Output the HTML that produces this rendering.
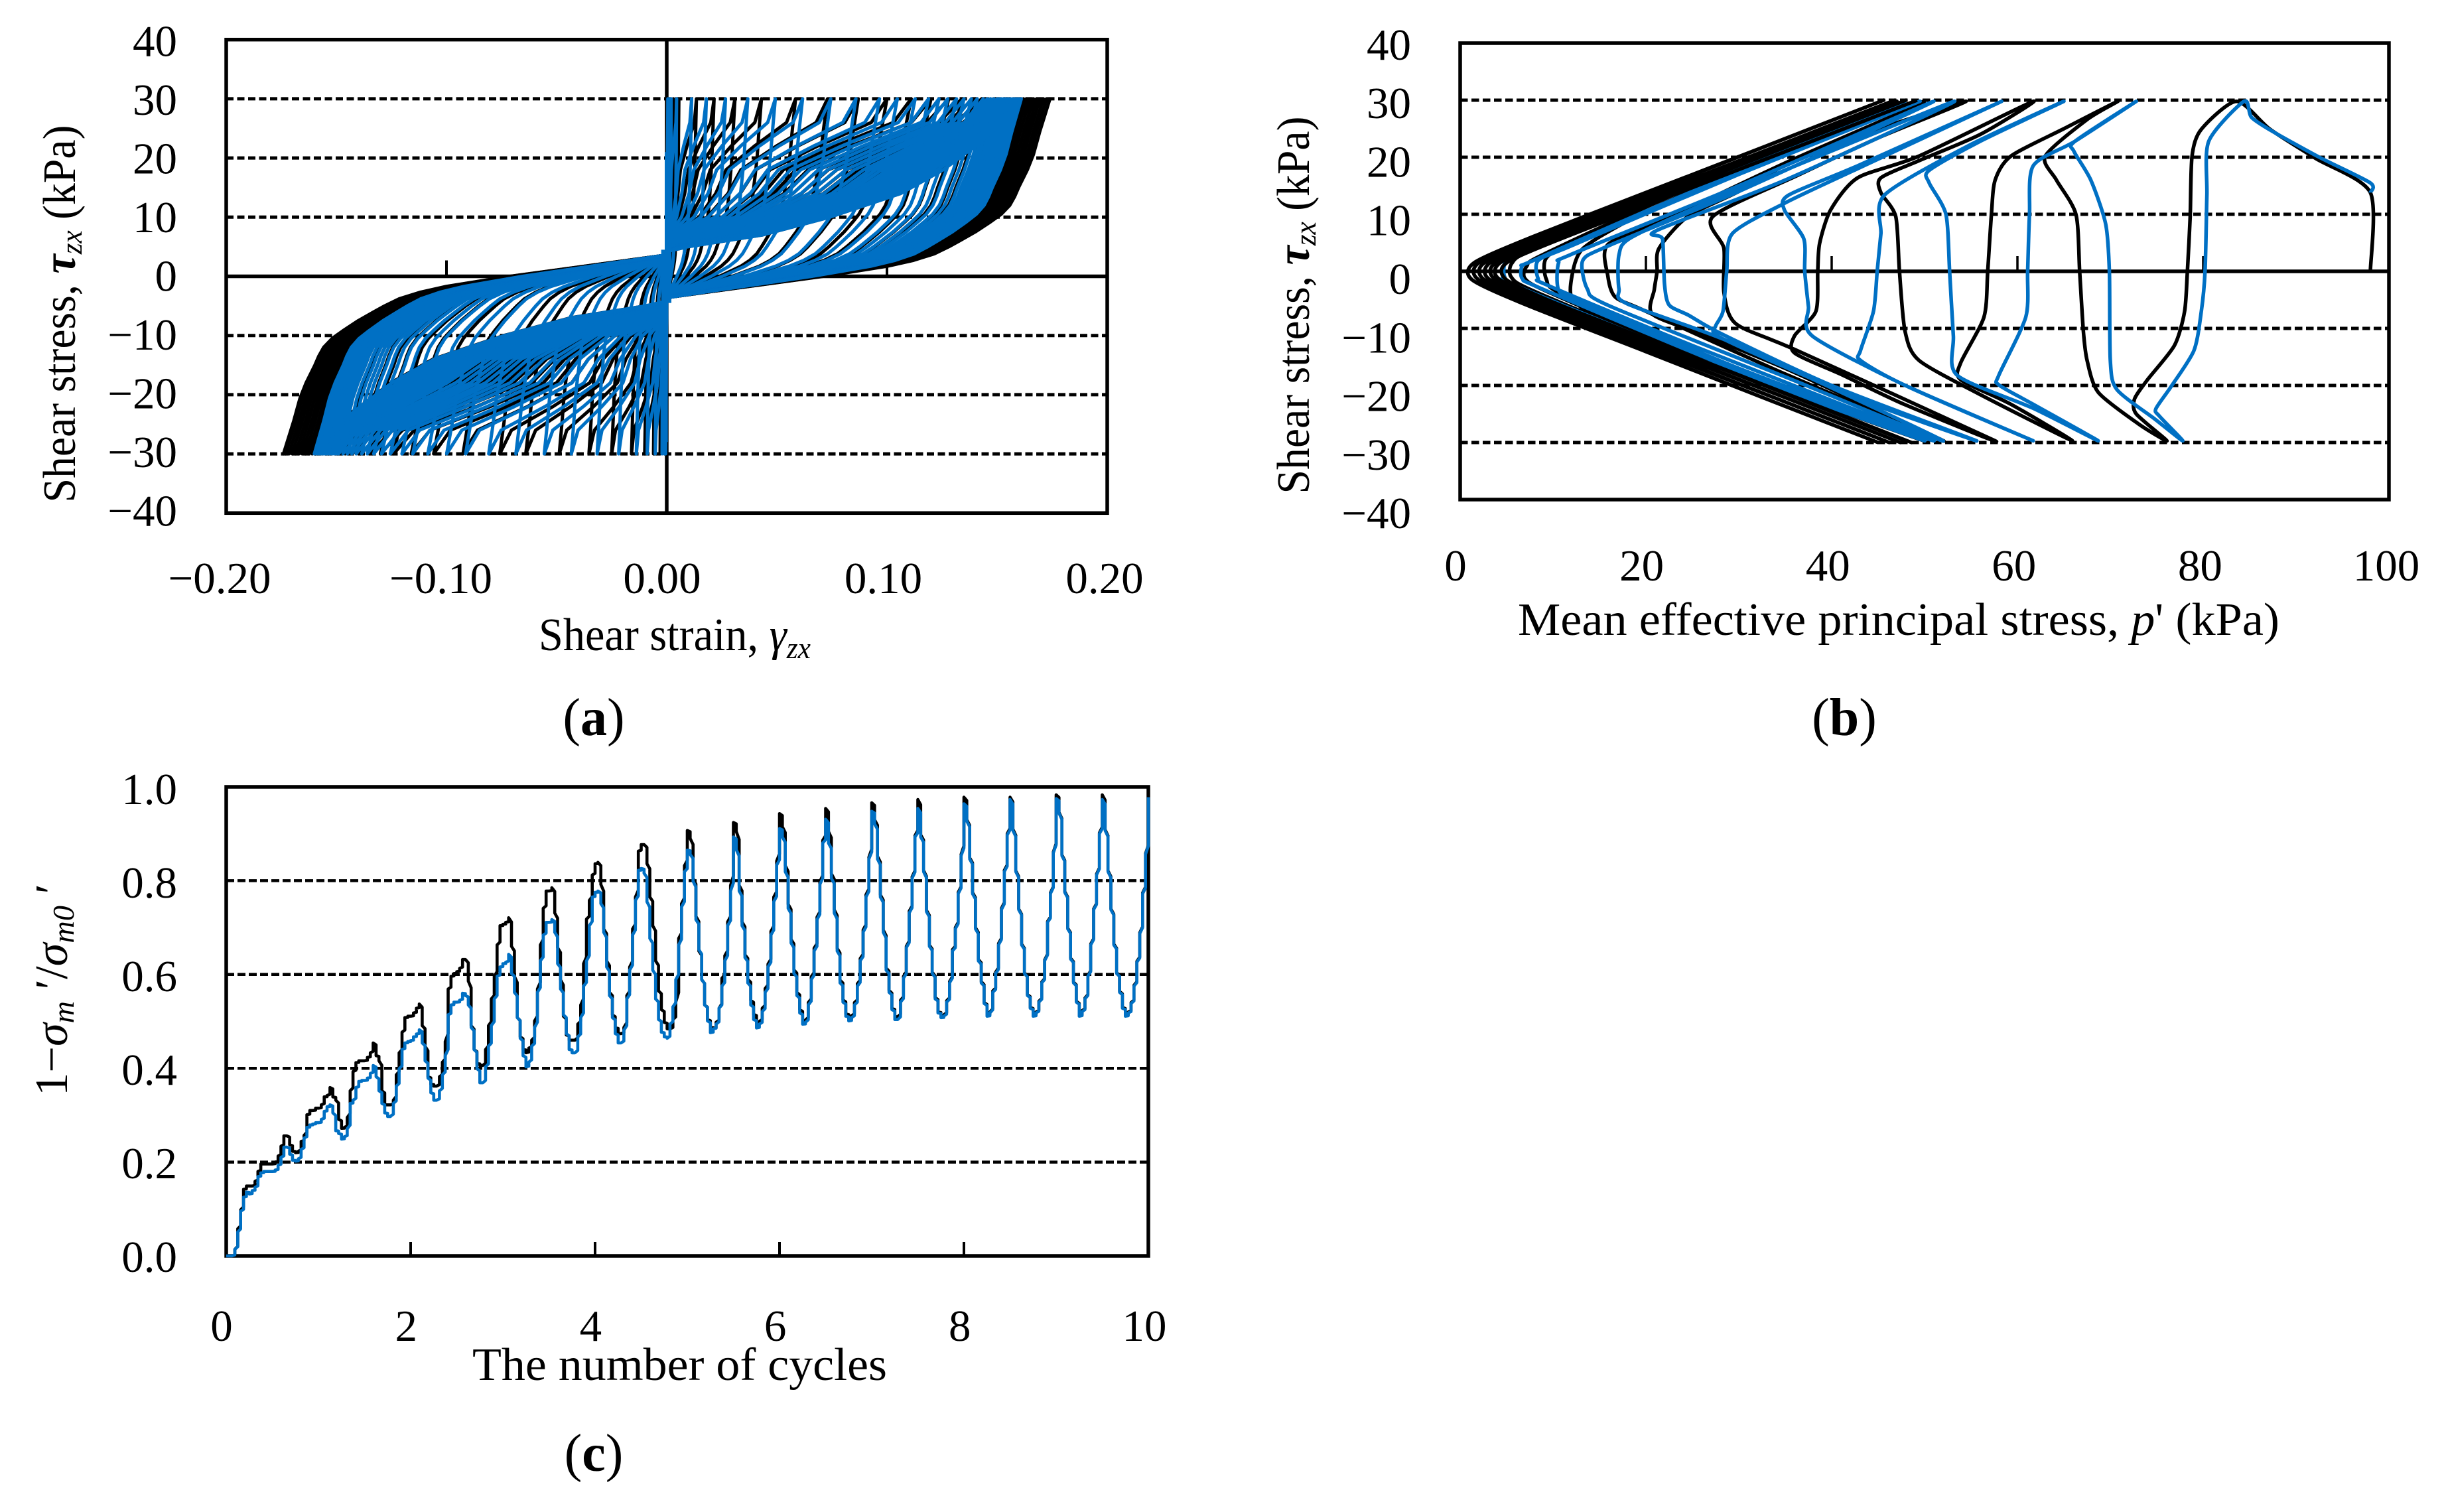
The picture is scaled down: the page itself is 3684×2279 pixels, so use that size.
<!DOCTYPE html>
<html lang="en">
<head>
<meta charset="utf-8">
<title>Cyclic shear test results</title>
<style>
html,body{margin:0;padding:0;background:#fff;}
svg{display:block;}
text{font-family:"Liberation Serif",serif;fill:#000;}
</style>
</head>
<body>
<svg id="fig" xmlns="http://www.w3.org/2000/svg" width="3684" height="2279" viewBox="0 0 3684 2279">
<rect width="3684" height="2279" fill="#fff"/>
<g id="plotA"></g>
<g id="plotB"></g>
<g id="plotC"></g>

<text transform="translate(113 473) rotate(-90)" text-anchor="middle" font-size="70" textLength="569" lengthAdjust="spacingAndGlyphs">Shear stress,  <tspan font-style="italic" font-weight="bold">τ</tspan><tspan font-style="italic" font-size="46" dy="10">zx</tspan><tspan dy="-10"> (kPa)</tspan></text>
<text x="812" y="980" font-size="70" textLength="410" lengthAdjust="spacingAndGlyphs">Shear strain,  <tspan font-style="italic">γ</tspan><tspan font-style="italic" font-size="46" dy="12">zx</tspan></text>
<text x="895" y="1108" font-size="80" text-anchor="middle">(<tspan font-weight="bold">a</tspan>)</text>

<text transform="translate(1973 460) rotate(-90)" text-anchor="middle" font-size="70" textLength="569" lengthAdjust="spacingAndGlyphs">Shear stress,  <tspan font-style="italic" font-weight="bold">τ</tspan><tspan font-style="italic" font-size="46" dy="10">zx</tspan><tspan dy="-10"> (kPa)</tspan></text>
<text x="2288" y="957" font-size="70" textLength="1148" lengthAdjust="spacingAndGlyphs">Mean effective principal stress, <tspan font-style="italic">p</tspan>' (kPa)</text>
<text x="2780" y="1108" font-size="80" text-anchor="middle">(<tspan font-weight="bold">b</tspan>)</text>

<text transform="translate(101 1492) rotate(-90)" text-anchor="middle" font-size="70" textLength="320" lengthAdjust="spacingAndGlyphs">1−<tspan font-style="italic">σ</tspan><tspan font-style="italic" font-size="46" dy="10">m</tspan><tspan dy="-10"> ′/</tspan><tspan font-style="italic">σ</tspan><tspan font-style="italic" font-size="46" dy="10">m0</tspan><tspan dy="-10"> ′</tspan></text>
<text x="712" y="2080" font-size="70" textLength="625" lengthAdjust="spacingAndGlyphs">The number of cycles</text>
<text x="895" y="2217" font-size="80" text-anchor="middle">(<tspan font-weight="bold">c</tspan>)</text>
</svg>

<script>
// ---------- Panel (a): shear stress vs shear strain ----------
var aYTicks = [40, 30, 20, 10, 0, -10, -20, -30, -40];
var aYGrid = [30, 20, 10, -10, -20, -30];
var aXTicks = [-0.2, -0.1, 0, 0.1, 0.2];
var aXTickLabels = ["−0.20", "−0.10", "0.00", "0.10", "0.20"];
var aMinorTicks = [-0.1, 0.1];
// strain reached at the stress limit in each half cycle, read where each line meets +/-30 kPa
var aPeaksBlackPos = [.001,.003,.0055,.0135,.0215,.031,.043,.0585,.073,.087,.1,.111,.12,.128,.134,.139,.143,.147,.15,.1515,.153,.1545,.156,.1575,.159,.1605,.162,.1635,.165,.1665,.168,.1695,.171,.1725,.174];
var aPeaksBluePos = [.0005,.001,.002,.0045,.0113,.018,.0267,.0368,.0493,.0617,.0745,.0859,.0966,.1047,.1128,.1189,.1236,.1276,.1316,.135,.1383,.141,.1437,.1455,.147,.1485,.15,.151,.152,.153,.154,.155,.156,.157,.158,.159,.16,.161];
var aPeaksBlackNeg = [.001,.003,.006,.01,.016,.025,.0353,.0488,.064,.0758,.0925,.1058,.116,.124,.13,.135,.139,.143,.146,.149,.1505,.152,.1535,.155,.1565,.158,.1595,.161,.1625,.164,.1655,.167,.1685,.17,.1715,.173,.174];
var aPeaksBlueNeg = [.0005,.001,.0021,.0052,.0089,.0138,.0218,.0316,.0433,.0556,.0685,.0808,.0913,.0999,.1085,.1153,.1202,.1255,.1295,.133,.136,.1385,.141,.143,.145,.147,.149,.15,.151,.152,.153,.154,.155,.156,.157,.158,.159,.16];
// branch shapes read from the envelope: stress level and fraction of the peak strain
var aLoadStress = [-3.6,-1.5,0,.8,1.7,2.7,3.8,5,6,7.5,9.2,10.5,12,13.5,15,18,20.6,24.4,30];
var aLoadFraction = [0,.238,.409,.487,.575,.644,.698,.736,.764,.805,.845,.873,.895,.908,.918,.941,.957,.973,1];
var aUnloadStress = [30,26,22,18,14,10,7,5,4.2];
var aUnloadFractionLargeBlue = [1,.95,.87,.78,.66,.46,.27,.06,0];
var aUnloadFractionLargeBlack = [1,.89,.8,.72,.61,.425,.25,.055,0];
var aUnloadFractionSmall = [1,.93,.68,.46,.38,.25,.05,0,0];
var aStemStrain = [.0006,-.001];
var aStemTop = [21,4.5];
var aStemBottom = [-4.5,-28];

// ---------- Panel (b): shear stress vs mean effective stress ----------
var bYTicks = [40, 30, 20, 10, 0, -10, -20, -30, -40];
var bYGrid = [30, 20, 10, -10, -20, -30];
var bXTicks = [0, 20, 40, 60, 80, 100];
var bMinorTicks = [20, 40, 60, 80];
var bBlackPath = [[98,0],[98,13.8],[92.1,19.8],[87.2,24.9],[83.6,29.8],
[79.8,24.9],[78.8,20.2],[78.6,9.6],[78.3,0],[78,-7],[76.9,-13],[74,-19],[72.6,-22.4],[72.8,-25],[76.1,-29.7],
[73,-26.7],[68.7,-21.2],[67.5,-15.6],[67.1,-10.5],[66.7,0],[66.3,10],[64.2,16],[63,20.2],[67.5,26.6],[70.8,29.8],
[65,25],[59.3,20.2],[57.6,16],[57.2,10],[56.8,0],[56.4,-8],[53.9,-16],[53.9,-19],[59.3,-23.3],[65.9,-29.7],
[56,-21.6],[49.4,-15.6],[47.9,-10.5],[47.3,0],[46.9,9.6],[45.3,13.8],[45.3,16.4],[49.4,19.4],[56,24],[61.7,29.8],
[49.4,20.2],[42.8,16.4],[39.9,10.8],[38.7,4.9],[38.5,0],[38.3,-7],[36,-11.3],[36,-14.3],[41.2,-18.2],[47.8,-23.3],[57.6,-29.7],
[36.3,-13.9],[29.7,-9.2],[28.4,-3.7],[28.4,4],[27.2,9.6],[36.3,16.8],[45.3,23.6],[54.4,29.8],
[38,21],[30,14],[24.5,9.6],[21.4,4],[21.2,0],[20.9,-3.2],[20.7,-7.5],[26,-11],[35,-17],[43,-23],[52,-29.7],
[35,-18],[20,-7],[16.7,-4.5],[15.9,-.8],[15.9,4.7],[22,9],[35,19],[50,29.8],
[35,21],[22,12],[16,7],[13.1,3.8],[12.2,.5],[12,-4.5],[15,-8],[30,-18],[50,-29.7],
[25,-14],[11,-4],[9.3,-1.5],[9.3,2.4],[13,6],[30,18.5],[47,29.8],
[25,15],[9,3],[7.2,1],[7,-1.3],[10,-4],[30,-18],[48,-29.7],
[25,-15],[8,-3.5],[5.5,-1],[5.6,1.5],[8,4],[25,16],[47,29.8]];
var bBluePath = [[98,13.8],[98,15.5],[92.5,20],[87.5,24.5],[85.2,27],[84.4,29.8],
[80.6,22.8],[80.4,13.4],[80.2,0],[79.8,-7],[79,-13.9],[76.5,-20.3],[74.9,-24.1],[75.3,-25.4],[77.8,-29.7],
[74.8,-25.9],[70.7,-20.7],[70,-15.6],[69.9,0],[69.5,8.3],[67.9,16],[66.1,21],[66.2,22.8],[72.8,29.8],
[66.2,22.8],[61.7,18.5],[61.3,10],[61.1,0],[60.9,-8],[58,-18.2],[58,-19.9],[61.7,-23.3],[68.7,-29.7],
[61.7,-24],[53.5,-18.2],[53.1,-11.3],[52.7,0],[52.3,10],[50.5,15.5],[50.5,17.7],[56,22.8],[65,29.8],
[54.7,22],[45.7,13.4],[45.3,6.6],[44.9,0],[44.5,-7],[43.1,-13.9],[43.1,-15.6],[47.8,-19.9],[61.7,-29.7],
[47.8,-19.9],[37.9,-11.3],[37.5,-6.2],[37.1,0],[37,5.7],[34.9,10.8],[35.4,13.4],[42.8,18.5],[58.3,29.8],
[42.8,18],[35,12],[29.3,6.6],[28.7,0],[28.3,-7],[27.5,-9.6],[27.7,-11.3],[34.6,-16.5],[44.5,-23.3],[55.6,-29.7],
[40,-20],[28.2,-11],[24.6,-7.7],[22.5,-5.9],[22,-2.2],[21.8,5.6],[21.2,7.2],[35,16],[53.2,29.8],
[28,13],[18.5,6],[17.1,2.9],[17.1,-3.1],[18,-5.7],[30,-13],[52,-29.7],
[35,-18.5],[16,-6],[13.7,-3.1],[13.2,1.9],[16,4.5],[30,14],[51,29.8],
[30,15],[12,3],[10.6,1.5],[10.7,-3.6],[14,-6],[30,-17],[51,-29.7],
[25,-13],[9.5,-2.5],[8.4,-1.3],[8.4,1.9],[12,4.5],[30,17],[49.5,29.8],
[25,14],[8,2],[6.7,1],[6.7,-1.3],[9,-3.2],[30,-17.5],[50,-29.7],
[25,-15],[6,-2.5],[4.8,-1],[4.8,1.2],[6,2.5],[20,12],[48,29.8]];
var bWedgePath = [[49.2,30],[36.6,22],[23.9,14],[11.3,6],[5,1.5],[5,-1.5],[10.9,-6],[23.5,-14],[36,-22],[48.6,-30],
[36,-22],[23.3,-14],[10.7,-6],[4.3,-1.5],[4.3,1.5],[10.3,6],[22.9,14],[35.4,22],[48,30],
[35.4,22],[22.7,14],[10.1,6],[3.8,1.5],[3.8,-1.5],[9.7,-6],[22.3,-14],[34.8,-22],[47.4,-30],
[34.8,-22],[22.1,-14],[9.5,-6],[3.2,-1.5],[3.2,1.5],[9.1,6],[21.7,14],[34.2,22],[46.8,30],
[34.2,22],[21.5,14],[8.9,6],[2.6,1.5],[2.6,-1.5],[8.5,-6],[21.1,-14],[33.6,-22],[46.2,-30],
[33.6,-22],[20.9,-14],[8.3,-6],[2,-1.5],[2,1.5],[7.9,6],[20.5,14],[33,22],[45.6,30],
[33,22],[20.3,14],[7.7,6],[1.5,1.5],[1.3,-1.5],[7.3,-6],[19.9,-14],[32.4,-22],[45,-30]];

// ---------- Panel (c): excess pore pressure ratio vs cycles ----------
var cYTicks = [1.0, 0.8, 0.6, 0.4, 0.2, 0.0];
var cYTickLabels = ["1.0", "0.8", "0.6", "0.4", "0.2", "0.0"];
var cYGrid = [0.8, 0.6, 0.4, 0.2];
var cXTicks = [0, 2, 4, 6, 8, 10];
var cMinorTicks = [2, 4, 6, 8];
var cSamplesPerCycle = 32;
var cBlack = [0,0,0,.014,.058,.098,.142,.149,.149,.149,.159,.18,.196,.196,.196,.196,.196,.2,.213,.234,.256,.256,.237,.223,.22,.223,.244,.257,.301,.31,.31,.315,.315,.322,.339,.342,.359,.339,.332,.291,.272,.274,.295,.352,.393,.412,.416,.416,.416,.423,.433,.454,.427,.416,.352,.322,.322,.322,.332,.386,.433,.477,.508,.511,.511,.518,.528,.537,.491,.447,.382,.366,.362,.362,.382,.413,.457,.569,.596,.602,.606,.613,.632,.632,.586,.491,.44,.41,.406,.406,.44,.491,.548,.596,.663,.704,.707,.711,.721,.66,.596,.508,.467,.44,.433,.443,.46,.501,.569,.663,.741,.778,.778,.785,.731,.657,.589,.511,.471,.46,.46,.46,.494,.535,.623,.718,.758,.812,.836,.839,.792,.697,.629,.562,.514,.487,.474,.474,.487,.555,.616,.697,.765,.863,.877,.877,.836,.765,.704,.629,.565,.525,.498,.484,.484,.504,.541,.677,.751,.832,.907,.89,.805,.724,.65,.589,.535,.504,.487,.484,.498,.528,.592,.64,.712,.79,.924,.905,.79,.712,.642,.59,.545,.515,.498,.5,.528,.57,.622,.692,.765,.842,.943,.915,.832,.75,.675,.61,.562,.525,.5,.503,.54,.595,.656,.722,.798,.886,.954,.905,.815,.738,.656,.588,.546,.516,.505,.512,.54,.58,.634,.695,.77,.85,.966,.93,.852,.77,.695,.614,.566,.528,.51,.51,.545,.596,.66,.735,.808,.896,.973,.898,.822,.737,.663,.605,.551,.52,.512,.514,.544,.585,.653,.7,.775,.856,.978,.93,.849,.775,.7,.632,.585,.54,.514,.52,.565,.605,.666,.741,.822,.9,.978,.91,.821,.74,.665,.604,.557,.53,.513,.52,.543,.584,.631,.713,.774,.861,.983,.946,.855,.777,.699,.635,.584,.543,.513,.523,.55,.598,.665,.74,.814,.902,.983,.909,.821,.74,.665,.604,.564,.53,.513,.52,.54,.577,.628,.689,.774,.858,.975];
var cBlue = [0,0,0,.014,.051,.095,.125,.136,.132,.139,.146,.169,.177,.18,.18,.18,.18,.183,.193,.21,.232,.232,.217,.204,.202,.207,.227,.251,.274,.279,.281,.284,.284,.291,.308,.318,.322,.305,.267,.261,.249,.254,.271,.325,.332,.359,.372,.374,.374,.379,.389,.406,.382,.352,.325,.305,.297,.298,.325,.362,.399,.44,.454,.457,.459,.467,.473,.482,.454,.416,.379,.348,.332,.332,.352,.386,.427,.514,.535,.541,.541,.545,.56,.555,.535,.487,.44,.399,.369,.369,.403,.447,.491,.548,.596,.616,.623,.626,.643,.602,.562,.508,.464,.427,.403,.413,.447,.487,.562,.629,.684,.711,.711,.717,.69,.623,.569,.514,.474,.44,.433,.433,.467,.508,.575,.629,.704,.765,.775,.778,.751,.69,.616,.555,.508,.474,.454,.454,.481,.548,.609,.684,.758,.822,.826,.816,.755,.677,.609,.548,.504,.477,.467,.464,.494,.531,.589,.663,.744,.819,.865,.856,.799,.717,.653,.589,.535,.501,.476,.484,.494,.528,.575,.629,.704,.778,.893,.866,.778,.704,.636,.582,.535,.504,.486,.494,.521,.562,.616,.684,.755,.833,.911,.893,.819,.741,.667,.602,.555,.518,.494,.498,.535,.589,.65,.717,.792,.88,.931,.88,.805,.731,.65,.582,.541,.511,.501,.508,.535,.575,.629,.69,.765,.846,.948,.921,.846,.765,.69,.609,.562,.525,.504,.504,.541,.592,.657,.731,.805,.893,.954,.893,.819,.734,.66,.602,.548,.518,.508,.511,.541,.582,.65,.697,.772,.853,.964,.927,.846,.772,.697,.629,.582,.538,.511,.518,.562,.602,.663,.738,.819,.897,.973,.907,.819,.738,.663,.602,.555,.528,.511,.518,.541,.582,.629,.711,.772,.859,.975,.944,.853,.775,.697,.633,.582,.541,.511,.521,.548,.596,.663,.738,.812,.9,.973,.907,.819,.738,.663,.602,.562,.528,.511,.518,.538,.575,.626,.687,.772,.856,.978];

// ---------- Axis functions ----------
function xA(v){ return 1005 + v * 3320; }
function yA(v){ return 416.5 - v * 8.92; }
function labelXA(v){ return 998 + v * 3335; }
function labelYA(v){ return 438.6 - v * 8.85; }
function xB(v){ return 2201 + v * 14; }
function yB(v){ return 409 - v * 8.6; }
function labelXB(v){ return 2194 + v * 14.03; }
function labelYB(v){ return 443 - v * 8.83; }
function xC(v){ return 341 + v * 139; }
function yC(v){ return 1893 - v * 707; }
function labelXC(v){ return 334 + v * 139.1; }
function labelYC(v){ return 1917 - v * 705; }

var NS = "http://www.w3.org/2000/svg";
var BLUE = "#0070C4";

function line(parent, x1, y1, x2, y2, width, name, dash){
  var el = document.createElementNS(NS, "line");
  
  
  el.setAttribute("x1", x1);
  el.setAttribute("y1", y1);
  el.setAttribute("x2", x2);
  el.setAttribute("y2", y2);
  el.setAttribute("stroke", "#000");
  el.setAttribute("stroke-width", width);
  if (dash) el.setAttribute("stroke-dasharray", dash);
  parent.appendChild(el);
  return el;
}
function rect(parent, x, y, w, h, name){
  var el = document.createElementNS(NS, "rect");
  
  
  el.setAttribute("x", x);
  el.setAttribute("y", y);
  el.setAttribute("width", w);
  el.setAttribute("height", h);
  el.setAttribute("fill", "none");
  el.setAttribute("stroke", "#000");
  el.setAttribute("stroke-width", 5.5);
  parent.appendChild(el);
}
function label(parent, x, y, str, anchor, name){
  var el = document.createElementNS(NS, "text");
  
  
  el.setAttribute("x", x);
  el.setAttribute("y", y);
  el.setAttribute("font-size", 67);
  el.setAttribute("text-anchor", anchor);
  el.textContent = str;
  parent.appendChild(el);
}
function curve(parent, d, color, width, name){
  var el = document.createElementNS(NS, "path");
  
  
  el.setAttribute("d", d);
  el.setAttribute("fill", "none");
  el.setAttribute("stroke", color);
  el.setAttribute("stroke-width", width);
  el.setAttribute("stroke-linejoin", "round");
  parent.appendChild(el);
}
function minus(v, str){ return v < 0 ? "−" + str : str; }

// ---------- Draw panel (a) ----------
(function(){
  var g = document.getElementById("plotA");
  aYGrid.forEach(function(v){
    line(g, xA(-0.2), yA(v), xA(0.2), yA(v), 5, "gridline-" + v, "11 5.5");
  });
  line(g, xA(-0.2), yA(0), xA(0.2), yA(0), 5.5, "x-axis-zero-line");
  line(g, xA(0), yA(40), xA(0), yA(-40), 5.5, "y-axis-zero-line");
  aMinorTicks.forEach(function(v){
    line(g, xA(v), yA(0), xA(v), yA(0) - 24, 4, "x-tick-mark");
  });
  function branchPath(peak, sign, maxPeak, large){
    var d = "";
    aLoadStress.forEach(function(t, i){
      d += (i ? "L" : "M") + xA(sign * peak * aLoadFraction[i]).toFixed(1) + " " + yA(sign * t).toFixed(1);
    });
    var w = Math.pow(Math.min(peak / maxPeak, 1), 6);
    aUnloadStress.forEach(function(t, i){
      var f = aUnloadFractionSmall[i] + (large[i] - aUnloadFractionSmall[i]) * w;
      d += "L" + xA(sign * peak * f).toFixed(1) + " " + yA(sign * t).toFixed(1);
    });
    return d;
  }
  aPeaksBlackPos.forEach(function(p){ curve(g, branchPath(p, 1, 0.174, aUnloadFractionLargeBlack), "#000", 5, "black-loop-positive"); });
  aPeaksBlackNeg.forEach(function(p){ curve(g, branchPath(p, -1, 0.174, aUnloadFractionLargeBlack), "#000", 5, "black-loop-negative"); });
  aPeaksBluePos.forEach(function(p){ curve(g, branchPath(p, 1, 0.161, aUnloadFractionLargeBlue), BLUE, 5, "blue-loop-positive"); });
  aPeaksBlueNeg.forEach(function(p){ curve(g, branchPath(p, -1, 0.16, aUnloadFractionLargeBlue), BLUE, 5, "blue-loop-negative"); });
  aStemStrain.forEach(function(s, i){
    curve(g, "M" + xA(s) + " " + yA(aStemTop[i]) + "L" + xA(s) + " " + yA(aStemBottom[i]), BLUE, 10, "blue-initial-stem");
  });
  rect(g, xA(-0.2), yA(40), xA(0.2) - xA(-0.2), yA(-40) - yA(40), "panel-a-frame");
  aYTicks.forEach(function(v){
    label(g, 267, labelYA(v), minus(v, String(Math.abs(v))), "end", "y-tick-label");
  });
  aXTicks.forEach(function(v, i){
    label(g, labelXA(v), 894, aXTickLabels[i], "middle", "x-tick-label");
  });
})();

// ---------- Draw panel (b) ----------
(function(){
  var g = document.getElementById("plotB");
  bYGrid.forEach(function(v){
    line(g, xB(0), yB(v), xB(100), yB(v), 5, "gridline-" + v, "11.5 5.5");
  });
  line(g, xB(0), yB(0), xB(100), yB(0), 5.5, "x-axis-zero-line");
  bMinorTicks.forEach(function(v){
    line(g, xB(v), yB(0), xB(v), yB(0) - 23, 3.5, "x-tick-mark");
  });
  function pathOf(points){
    var pts = points.map(function(pt){ return [xB(pt[0]), yB(pt[1])]; });
    var d = "M" + pts[0][0].toFixed(1) + " " + pts[0][1].toFixed(1);
    for (var i = 0; i < pts.length - 1; i++) {
      var a = pts[Math.max(i - 1, 0)], b = pts[i], c = pts[i + 1], e = pts[Math.min(i + 2, pts.length - 1)];
      var k = 1 / 8;
      d += "C" + (b[0] + (c[0] - a[0]) * k).toFixed(1) + " " + (b[1] + (c[1] - a[1]) * k).toFixed(1) +
           " " + (c[0] - (e[0] - b[0]) * k).toFixed(1) + " " + (c[1] - (e[1] - b[1]) * k).toFixed(1) +
           " " + c[0].toFixed(1) + " " + c[1].toFixed(1);
    }
    return d;
  }
  curve(g, pathOf(bBlackPath), "#000", 5.5, "black-stress-path");
  curve(g, pathOf(bBluePath), BLUE, 5.5, "blue-stress-path");
  curve(g, pathOf(bWedgePath), "#000", 5.5, "black-failure-wedge-cycles");
  rect(g, xB(0), yB(40), xB(100) - xB(0), yB(-40) - yB(40), "panel-b-frame");
  bYTicks.forEach(function(v){
    label(g, 2127, labelYB(v), minus(v, String(Math.abs(v))), "end", "y-tick-label");
  });
  bXTicks.forEach(function(v){
    label(g, labelXB(v), 875, String(v), "middle", "x-tick-label");
  });
})();

// ---------- Draw panel (c) ----------
(function(){
  var g = document.getElementById("plotC");
  cYGrid.forEach(function(v){
    line(g, xC(0), yC(v), xC(10), yC(v), 4.5, "gridline-" + v, "12 5");
  });
  cMinorTicks.forEach(function(v){
    line(g, xC(v), yC(0), xC(v), yC(0) - 21, 4, "x-tick-mark");
  });
  rect(g, xC(0), yC(1), xC(10) - xC(0), yC(0) - yC(1), "panel-c-frame");
  function stair(values){
    var d = "";
    values.forEach(function(v, i){
      var x = xC(i / cSamplesPerCycle), y = yC(v);
      if (i === 0) { d += "M" + x.toFixed(1) + " " + y.toFixed(1); return; }
      var prev = yC(values[i - 1]);
      d += "L" + x.toFixed(1) + " " + (prev + (y - prev) * 0.15).toFixed(1);
      d += "L" + x.toFixed(1) + " " + y.toFixed(1);
    });
    return d;
  }
  curve(g, stair(cBlack), "#000", 4.6, "black-ratio-series");
  curve(g, stair(cBlue), BLUE, 4.6, "blue-ratio-series");
  cYTicks.forEach(function(v, i){
    label(g, 267, labelYC(v), cYTickLabels[i], "end", "y-tick-label");
  });
  cXTicks.forEach(function(v){
    label(g, labelXC(v), 2021, String(v), "middle", "x-tick-label");
  });
})();
</script>
</body>
</html>
